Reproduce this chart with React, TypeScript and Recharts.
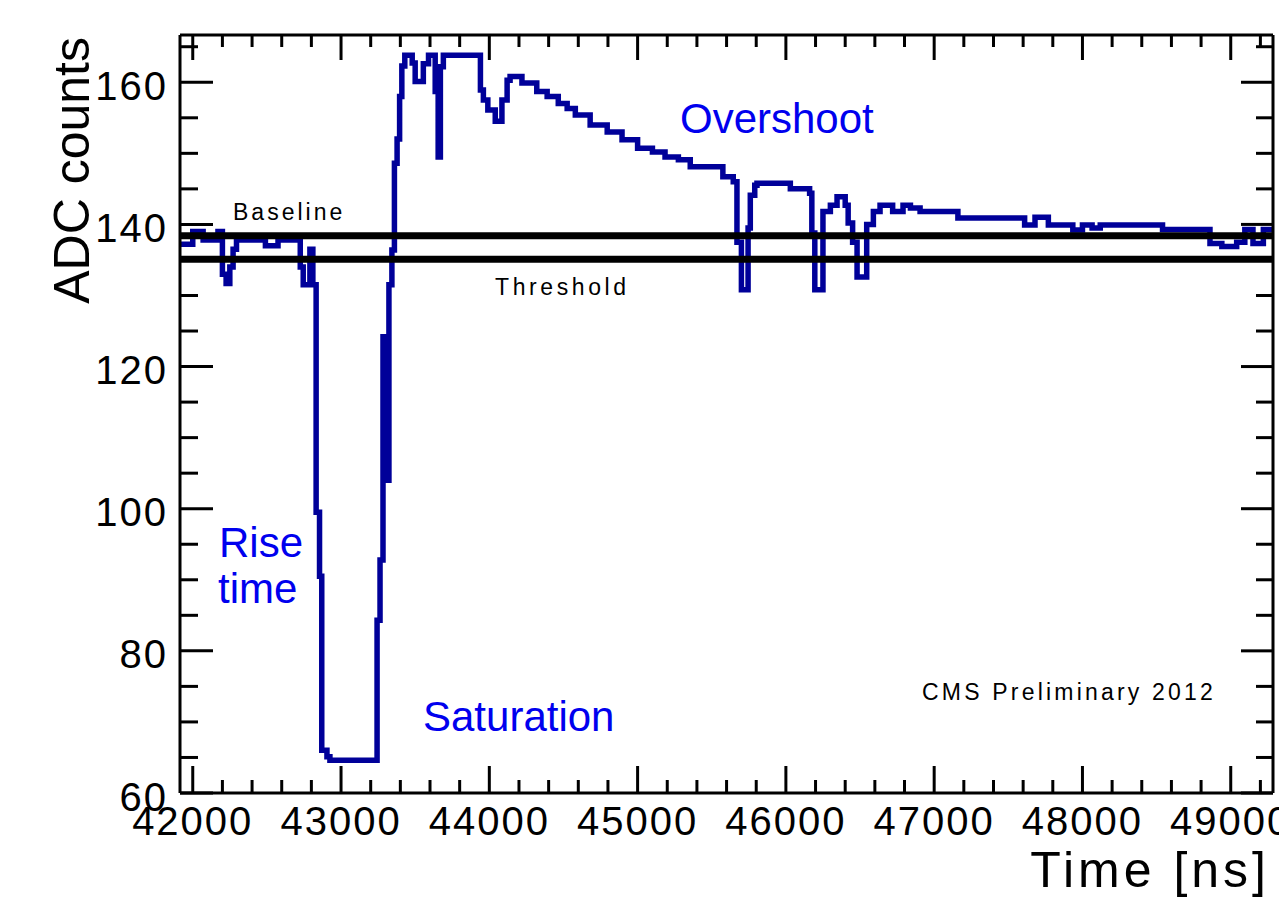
import React from 'react';
import { LineChart, Line, XAxis, YAxis } from 'recharts';

// Waveform bins (start time in ns) and ADC counts
const times = [
  41914, 42000, 42070, 42170, 42200, 42225, 42250, 42272, 42295, 42490,
  42575, 42725, 42745, 42790, 42810, 42832, 42855, 42870, 42905, 42925,
  43243, 43263, 43283, 43303, 43323, 43343, 43360, 43378, 43395, 43410,
  43430, 43480, 43500, 43555, 43590, 43635, 43655, 43670, 43690, 43940,
  43960, 43990, 44040, 44085, 44120, 44140, 44220, 44320, 44390, 44465,
  44525, 44580, 44680, 44795, 44895, 45000, 45100, 45185, 45275, 45355,
  45575, 45645, 45670, 45700, 45745, 45760, 45790, 45805, 46030, 46160,
  46175, 46195, 46250, 46300, 46345, 46400, 46420, 46450, 46480, 46545,
  46590, 46635, 46720, 46790, 46840, 46905, 47160, 47610, 47680, 47770,
  47935, 48000, 48065, 48120, 48540, 48860, 48940, 49040, 49095, 49150,
  49220, 49285,
];
const adc = [
  137.2, 139.0, 137.8, 139.0, 133.0, 131.7, 134.0, 136.5, 137.8, 137.0,
  137.8, 134.0, 131.5, 136.5, 131.5, 99.5, 90.5, 66.0, 65.1, 64.6,
  84.3, 92.8, 124.2, 104.0, 131.5, 136.4, 148.6, 152.0, 158.0, 162.3,
  163.8, 162.7, 160.1, 162.6, 163.8, 158.7, 149.5, 162.2, 163.8, 158.9,
  157.5, 156.1, 154.5, 157.5, 160.3, 160.8, 159.9, 158.7, 158.0, 157.0,
  156.3, 155.4, 154.0, 153.0, 151.9, 150.7, 150.2, 149.5, 149.1, 148.1,
  146.7, 146.0, 137.5, 130.8, 139.5, 144.1, 145.5, 145.8, 145.0, 144.4,
  138.8, 130.8, 141.8, 142.7, 143.9, 142.7, 140.2, 137.5, 132.6, 140.0,
  141.8, 142.7, 141.8, 142.7, 142.3, 141.8, 140.9, 139.9, 141.0, 139.9,
  139.2, 139.9, 139.5, 139.9, 139.3, 137.3, 136.9, 137.5, 139.3, 137.3,
  139.3, 139.3,
];

const baselineLevel = 138.4;
const thresholdLevel = 135.1;

const xMajorTicks = [42000, 43000, 44000, 45000, 46000, 47000, 48000, 49000];
const yMajorTicks = [60, 80, 100, 120, 140, 160];
const xDomain: [number, number] = [41914, 49285];
const yDomain: [number, number] = [60, 166.65];

const xTicks: number[] = [];
for (let t = 42000; t <= 49200; t += 200) xTicks.push(t);
const yTicks: number[] = [];
for (let v = 60; v <= 165; v += 5) yTicks.push(v);

const signal = times.map((t, i) => ({ t, v: adc[i] }));
const baseline = xDomain.map((t) => ({ t, v: baselineLevel }));
const threshold = xDomain.map((t) => ({ t, v: thresholdLevel }));

const FONT = '"Liberation Sans", Arial, Helvetica, sans-serif';

const BottomTick = (props: any) => {
  const { x, y, payload } = props;
  const major = xMajorTicks.includes(payload.value);
  return (
    <g>
      <line x1={x} x2={x} y1={y} y2={y - (major ? 27 : 13)} stroke="#000" strokeWidth={3} />
      {major && (
        <text x={x} y={y + 42} textAnchor="middle" fontFamily={FONT} fontSize={40} letterSpacing={2} fill="#000">
          {payload.value}
        </text>
      )}
    </g>
  );
};

const TopTick = (props: any) => {
  const { x, y, payload } = props;
  const major = xMajorTicks.includes(payload.value);
  return <line x1={x} x2={x} y1={y} y2={y + (major ? 25 : 12)} stroke="#000" strokeWidth={3} />;
};

const LeftTick = (props: any) => {
  const { x, y, payload } = props;
  const major = yMajorTicks.includes(payload.value);
  return (
    <g>
      <line x1={x} x2={x + (major ? 33 : 18)} y1={y} y2={y} stroke="#000" strokeWidth={3} />
      {major && (
        <text x={x - 12} y={y + 17.5} textAnchor="end" fontFamily={FONT} fontSize={40} letterSpacing={2} fill="#000">
          {payload.value}
        </text>
      )}
    </g>
  );
};

const RightTick = (props: any) => {
  const { x, y, payload } = props;
  const major = yMajorTicks.includes(payload.value);
  return <line x1={x} x2={x - (major ? 32 : 17)} y1={y} y2={y} stroke="#000" strokeWidth={3} />;
};

const axisLine = { stroke: '#000', strokeWidth: 3 };

export default function App() {
  return (
    <div style={{ position: 'absolute', left: 0, top: 0, width: 1279, height: 901, background: '#fff' }}>
      <LineChart width={1279} height={901} margin={{ top: 34, right: 5, bottom: 8, left: 80 }}>
        <XAxis
          xAxisId="b"
          dataKey="t"
          type="number"
          domain={xDomain}
          allowDataOverflow
          ticks={xTicks}
          interval={0}
          height={100}
          tickSize={0}
          tickMargin={0}
          tickLine={false}
          axisLine={axisLine}
          tick={<BottomTick />}
        />
        <XAxis
          xAxisId="t"
          orientation="top"
          dataKey="t"
          type="number"
          domain={xDomain}
          allowDataOverflow
          ticks={xTicks}
          interval={0}
          height={1}
          tickSize={0}
          tickMargin={0}
          tickLine={false}
          axisLine={axisLine}
          tick={<TopTick />}
        />
        <YAxis
          yAxisId="l"
          type="number"
          domain={yDomain}
          allowDataOverflow
          ticks={yTicks}
          interval={0}
          width={100}
          tickSize={0}
          tickMargin={0}
          tickLine={false}
          axisLine={axisLine}
          tick={<LeftTick />}
        />
        <YAxis
          yAxisId="r"
          orientation="right"
          type="number"
          domain={yDomain}
          allowDataOverflow
          ticks={yTicks}
          interval={0}
          width={1}
          tickSize={0}
          tickMargin={0}
          tickLine={false}
          axisLine={axisLine}
          tick={<RightTick />}
        />
        <Line
          xAxisId="b"
          yAxisId="l"
          data={signal}
          dataKey="v"
          type="stepAfter"
          stroke="#000099"
          strokeWidth={5.5}
          strokeLinejoin="miter"
          dot={false}
          activeDot={false}
          isAnimationActive={false}
        />
        <Line
          xAxisId="b"
          yAxisId="l"
          data={baseline}
          dataKey="v"
          type="linear"
          stroke="#000"
          strokeWidth={7}
          dot={false}
          activeDot={false}
          isAnimationActive={false}
        />
        <Line
          xAxisId="b"
          yAxisId="l"
          data={threshold}
          dataKey="v"
          type="linear"
          stroke="#000"
          strokeWidth={7}
          dot={false}
          activeDot={false}
          isAnimationActive={false}
        />
      </LineChart>
      <svg width={1279} height={901} style={{ position: 'absolute', left: 0, top: 0, pointerEvents: 'none' }}>
        <text x={89} y={37} transform="rotate(-90 89 37)" textAnchor="end" fontFamily={FONT} fontSize={50} fill="#000">
          ADC counts
        </text>
        <text x={1270} y={887} textAnchor="end" fontFamily={FONT} fontSize={50} letterSpacing={4} fill="#000">
          Time [ns]
        </text>
        <text x={233} y={219.5} fontFamily={FONT} fontSize={23} letterSpacing={3} fill="#000">Baseline</text>
        <text x={495} y={295} fontFamily={FONT} fontSize={23} letterSpacing={3.6} fill="#000">Threshold</text>
        <text x={922} y={700} fontFamily={FONT} fontSize={23} letterSpacing={3.2} fill="#000">CMS Preliminary 2012</text>
        <text x={680} y={133} fontFamily={FONT} fontSize={42} fill="#0000ee">Overshoot</text>
        <text x={423} y={731} fontFamily={FONT} fontSize={42} fill="#0000ee">Saturation</text>
        <text x={219} y={557} fontFamily={FONT} fontSize={42} fill="#0000ee">Rise</text>
        <text x={218} y={603} fontFamily={FONT} fontSize={42} fill="#0000ee">time</text>
      </svg>
    </div>
  );
}
